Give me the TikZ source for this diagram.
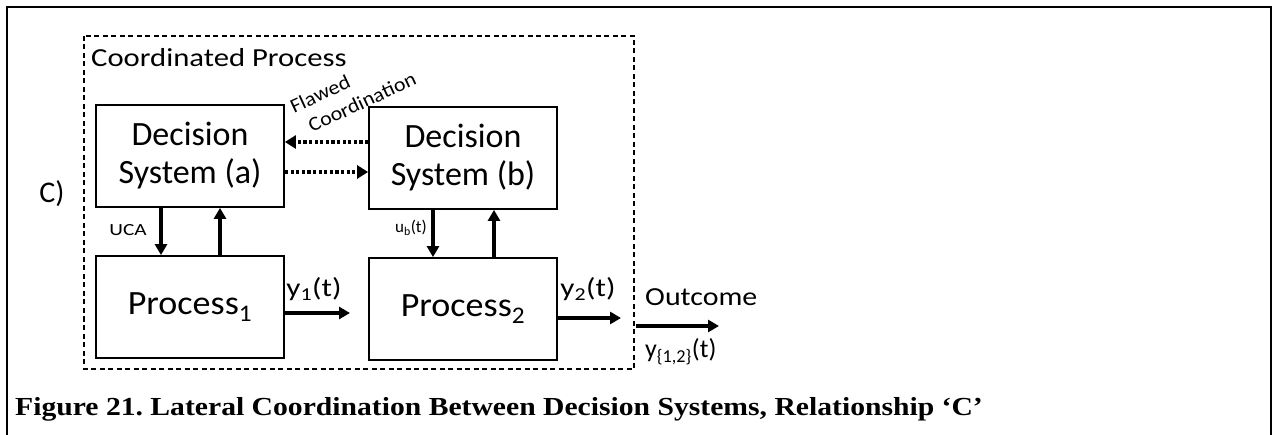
\documentclass[tikz,border=0pt]{standalone}
\usepackage{graphicx}
\usepackage{fontspec}
\setmainfont{Carlito}
\newfontfamily\capfont{Liberation Serif}
\usetikzlibrary{arrows.meta}
\frenchspacing
% horizontally widened text
\newcommand\widen[2]{\scalebox{#1}[1]{#2}}
\tikzset{
  blk/.style={draw, line width=1.8pt, minimum width=188pt, minimum height=102pt, align=center, font=\fontsize{34}{38}\selectfont},
  flow/.style={line width=3.6pt, -{Triangle[length=11pt,width=12pt]}},
  dotflow/.style={line width=3.2pt, dash pattern=on 3.2pt off 2.4pt, -{Triangle[length=11pt,width=13pt]}},
  lbl/.style={inner sep=0pt, font=\fontsize{26}{28}\selectfont},
  small/.style={inner sep=0pt, font=\fontsize{17}{19}\selectfont},
  slant/.style={inner sep=0pt, rotate=25, font=\fontsize{20}{22}\selectfont},
}
\begin{document}
\begin{tikzpicture}[x=1pt,y=-1pt]
\useasboundingbox (0,0) rectangle (1273,435);
% outer frame, open at the bottom
\draw[line width=2pt] (7,436) -- (7,7) -- (1271,7) -- (1271,436);
% group boundary
\draw[line width=1.4pt, dash pattern=on 5pt off 3.5pt] (84,36) rectangle (634,369);
\node[anchor=west, lbl] (grp) at (91,58) {\widen{1.18}{Coordinated Process}};
\node[font=\fontsize{30}{32}\selectfont, inner sep=0pt] (lab) at (52,194) {C)};
% blocks
\node[blk] (dsa) at (190,156) {Decision\\System (a)};
\node[blk] (dsb) at (463,158) {Decision\\System (b)};
\node[blk] (p1) at (190,307) {\widen{1.06}{Process\textsubscript{1}}};
\node[blk] (p2) at (463,309) {\widen{1.06}{Process\textsubscript{2}}};
% lateral coordination
\draw[dotflow] (dsb.west |- 0,142) -- (dsa.east |- 0,142);
\draw[dotflow] (dsa.east |- 0,172) -- (dsb.west |- 0,172);
\node[slant] (fl) at (320,94) {\widen{1.1}{Flawed}};
\node[slant] (co) at (362,102) {\widen{1.1}{Coordination}};
% control and feedback
\draw[flow] (dsa.south -| 161,0) -- (p1.north -| 161,0);
\draw[flow] (p1.north -| 220,0) -- (dsa.south -| 220,0);
\draw[flow] (dsb.south -| 433,0) -- (p2.north -| 433,0);
\draw[flow] (p2.north -| 494,0) -- (dsb.south -| 494,0);
\node[small] (uca) at (128,230) {\widen{1.25}{UCA}};
\node[small] (ub) at (411,228) {u\textsubscript{b}(t)};
% outputs
\coordinate (y1e) at (350,313);
\coordinate (y2e) at (621,318);
\coordinate (os) at (636,326);
\coordinate (oe) at (719,326);
\draw[flow] (p1.east |- y1e) -- (y1e);
\draw[flow] (p2.east |- y2e) -- (y2e);
\draw[flow] (os) -- (oe);
\node[lbl] (y1) at (314,289) {\widen{1.2}{y\textsubscript{1}(t)}};
\node[lbl] (y2) at (588,289) {\widen{1.2}{y\textsubscript{2}(t)}};
\node[lbl, anchor=west] (out) at (645,297) {\widen{1.15}{Outcome}};
\node[lbl, anchor=west] (y12) at (645,352) {y\textsubscript{\{1,2\}}(t)};
% caption
\node[anchor=base west, inner sep=0pt, font=\capfont\bfseries\fontsize{26}{28}\selectfont] (cap) at (15,415)
  {\widen{1.14}{Figure 21. Lateral Coordination Between Decision Systems, Relationship ‘C’}};
\end{tikzpicture}
\end{document}
